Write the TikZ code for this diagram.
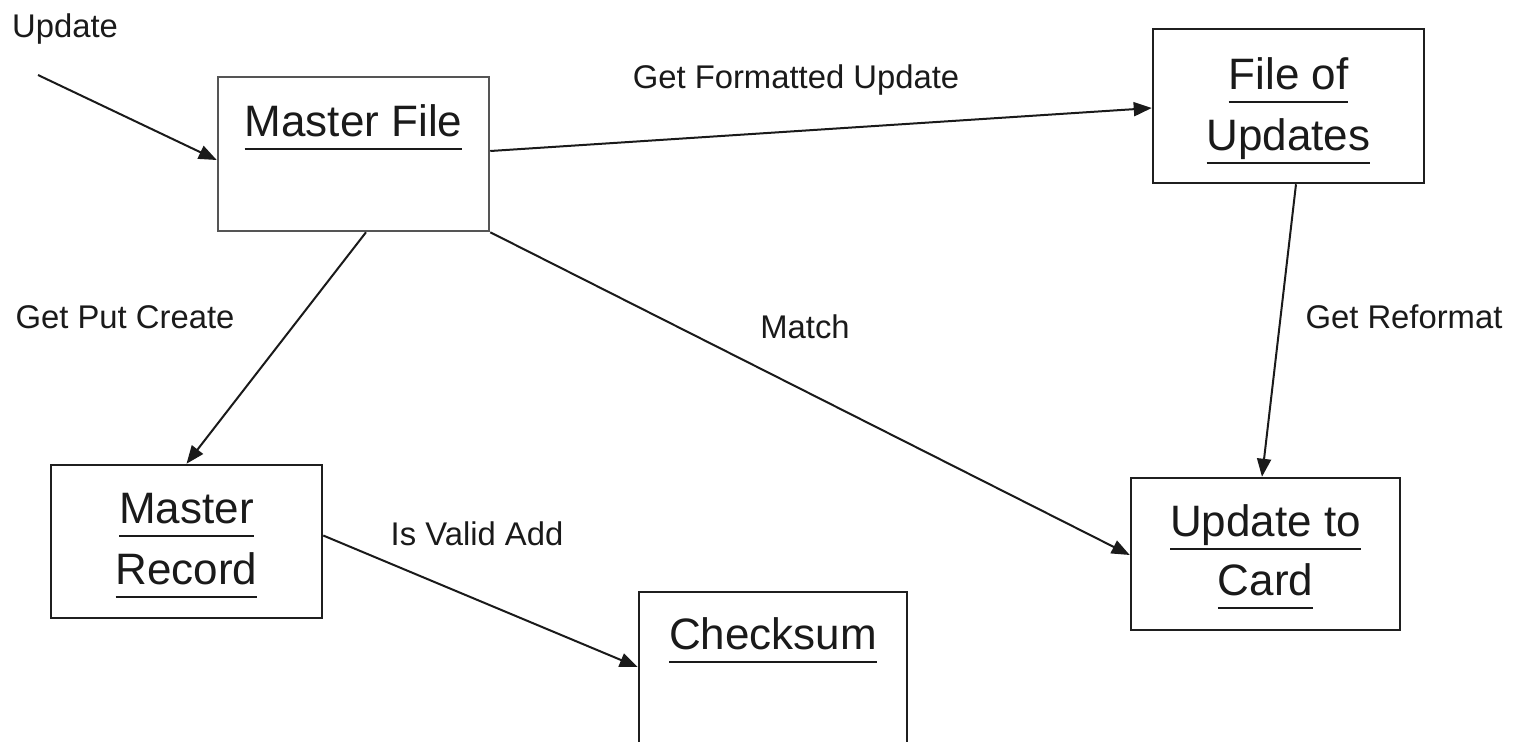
\documentclass[tikz,border=0pt]{standalone}
\usepackage{fontspec}
\setmainfont{Liberation Sans}
\usetikzlibrary{arrows.meta,calc}

\definecolor{ink}{HTML}{1A1A1A}
\definecolor{edge}{HTML}{1F1F1F}
\definecolor{softedge}{HTML}{555555}

% underlined title text: rule of the text's width, a little below the baseline
\newcommand\ulx[1]{\setbox0\hbox{#1}\leavevmode\rlap{\copy0}\raisebox{-0.30em}{\color{ink}\rule{\wd0}{0.055em}}}

\tikzset{
  store/.style={draw=edge, line width=1.25pt, minimum width=#1, minimum height=77pt, inner sep=0pt},
  store/.default=135.5pt,
  title/.style={anchor=base, inner sep=0pt, text=ink, font=\fontsize{22pt}{30.5pt}\selectfont},
  tag/.style={anchor=base, inner sep=0pt, text=ink, font=\fontsize{16.4pt}{20pt}\selectfont},
  flow/.style={draw=ink, line width=1pt, -{Triangle[length=9pt, width=7pt]}},
}

\begin{document}
\begin{tikzpicture}[x=0.5pt, y=-0.5pt]
  \path[use as bounding box] (0,0) rectangle (1523,741);
  \clip (0,0) rectangle (1523,741);

  % stores
  \node[store, draw=softedge] (mf) at (353.5,154) {};
  \node[store] (fu) at (1288.5,106) {};
  \node[store, minimum height=76.5pt] (mr) at (186.5,541.5) {};
  \node[store=134.5pt, minimum height=76pt] (uc) at (1265.5,554) {};
  \node[store=134pt] (ck) at (773,669) {};

  % store titles
  \node[title] (mf-t) at ($(mf.north)+(0,61)$) {\ulx{Master File}};
  \node[title] (fu-t1) at ($(fu.north)+(0,62)$) {\ulx{File of}};
  \node[title] (fu-t2) at ($(fu.north)+(0,123)$) {\ulx{Updates}};
  \node[title] (mr-t1) at ($(mr.north)+(0,60)$) {\ulx{Master}};
  \node[title] (mr-t2) at ($(mr.north)+(0,121)$) {\ulx{Record}};
  \node[title] (uc-t1) at ($(uc.north)+(0,60)$) {\ulx{Update to}};
  \node[title] (uc-t2) at ($(uc.north)+(0,119)$) {\ulx{Card}};
  \node[title] (ck-t) at ($(ck.north)+(0,59)$) {\ulx{Checksum}};

  % incoming update
  \coordinate (in) at (38,75);
  \node[tag] (in-l) at (65,37) {Update};
  \draw[flow] (in) -- ($(mf.west)+(0,6)$);

  % flows between stores
  \draw[flow] ($(mf.east)+(0,-3)$) -- ($(fu.west)+(0,2)$);
  \draw[flow] ($(fu.south)+(7.5,0)$) -- ($(uc.north)+(-3.5,0)$);
  \draw[flow] (mf.south east) -- ($(uc.west)+(0,1)$);
  \draw[flow] ($(mf.south)+(12.5,0)$) -- (mr.north);
  \draw[flow] ($(mr.east)+(0,-6)$) -- ($(ck.west)+(0,-2)$);

  % flow labels
  \node[tag] (l-gfu) at (796,88) {Get Formatted Update};
  \node[tag] (l-gpc) at (125,328) {Get Put Create};
  \node[tag] (l-m) at (805,338) {Match};
  \node[tag] (l-gr) at (1404,328) {Get Reformat};
  \node[tag] (l-iva) at (477,545) {Is Valid Add};
\end{tikzpicture}
\end{document}
